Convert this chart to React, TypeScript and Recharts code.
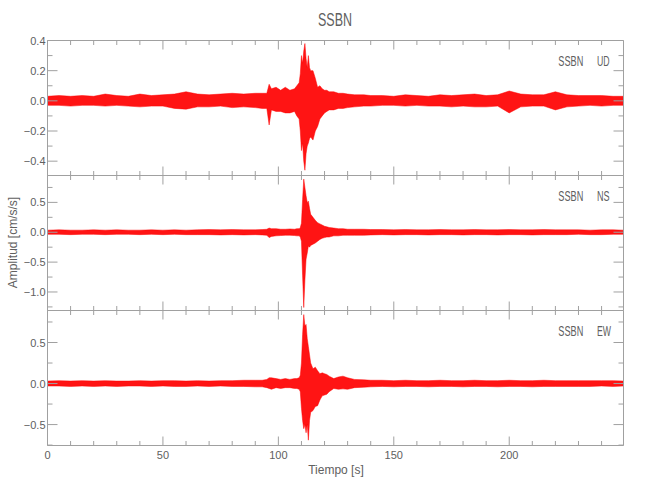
import { AreaChart, Area, XAxis, YAxis } from "recharts";

// time grid (s) shared by the three components; denser around the event
const T = [
  0, 5, 10, 15, 20, 25, 30, 35, 40, 45, 50, 55, 60, 65, 70, 75, 80, 85, 90,
  93, 95, 96, 97, 99, 101, 103, 105, 107, 108, 109, 109.5, 110, 110.5, 111, 111.5, 112, 112.5,
  113, 113.5, 114, 115, 116, 117, 118, 119, 120, 121, 122, 124, 126, 128, 130, 133,
  137, 140, 145, 150, 155, 160, 165, 170, 175, 180, 185, 190, 195, 200, 205, 210, 215, 220,
  225, 230, 235, 240, 245, 249.5,
];

// envelope of each trace (cm/s/s), upper and lower edge
const UD_HI = [
  0.03, 0.035, 0.03, 0.035, 0.03, 0.045, 0.035, 0.03, 0.045, 0.035, 0.04, 0.045, 0.06, 0.045, 0.04, 0.045, 0.05, 0.045, 0.05,
  0.05, 0.05, 0.11, 0.08, 0.09, 0.07, 0.09, 0.07, 0.08, 0.1, 0.12, 0.18, 0.3, 0.25, 0.33, 0.38, 0.28, 0.22,
  0.3, 0.22, 0.2, 0.2, 0.15, 0.09, 0.1, 0.08, 0.07, 0.07, 0.06, 0.06, 0.05, 0.05, 0.045, 0.04,
  0.04, 0.035, 0.035, 0.03, 0.04, 0.035, 0.03, 0.04, 0.035, 0.04, 0.045, 0.035, 0.04, 0.065, 0.045, 0.04, 0.04, 0.06,
  0.04, 0.035, 0.035, 0.035, 0.03, 0.03,
];
const UD_LO = [
  -0.03, -0.03, -0.035, -0.03, -0.03, -0.035, -0.03, -0.035, -0.04, -0.035, -0.035, -0.05, -0.055, -0.04, -0.04, -0.035, -0.045, -0.04, -0.045,
  -0.05, -0.05, -0.16, -0.06, -0.07, -0.07, -0.08, -0.08, -0.07, -0.1, -0.12, -0.2, -0.33, -0.28, -0.4, -0.46, -0.35, -0.3,
  -0.28, -0.25, -0.24, -0.26, -0.2, -0.17, -0.12, -0.1, -0.08, -0.07, -0.06, -0.06, -0.05, -0.05, -0.045, -0.04,
  -0.035, -0.035, -0.03, -0.03, -0.035, -0.03, -0.035, -0.035, -0.04, -0.035, -0.04, -0.04, -0.035, -0.08, -0.04, -0.035, -0.035, -0.06,
  -0.04, -0.035, -0.03, -0.035, -0.03, -0.03,
];

const NS_HI = [
  0.035, 0.04, 0.035, 0.035, 0.04, 0.035, 0.04, 0.035, 0.035, 0.04, 0.035, 0.04, 0.035, 0.04, 0.045, 0.04, 0.045, 0.04, 0.04,
  0.045, 0.05, 0.07, 0.06, 0.06, 0.05, 0.05, 0.055, 0.05, 0.06, 0.06, 0.08, 0.15, 0.55, 0.89, 0.75, 0.61, 0.5,
  0.52, 0.4, 0.3, 0.25, 0.2, 0.16, 0.14, 0.12, 0.1, 0.09, 0.08, 0.07, 0.06, 0.06, 0.05, 0.05,
  0.05, 0.045, 0.045, 0.04, 0.045, 0.04, 0.04, 0.045, 0.04, 0.04, 0.045, 0.04, 0.04, 0.045, 0.04, 0.04, 0.045, 0.04,
  0.04, 0.04, 0.035, 0.04, 0.04, 0.035,
];
const NS_LO = [
  -0.035, -0.035, -0.04, -0.035, -0.035, -0.04, -0.035, -0.035, -0.04, -0.035, -0.04, -0.035, -0.04, -0.04, -0.04, -0.045, -0.04, -0.045, -0.04,
  -0.045, -0.05, -0.09, -0.07, -0.06, -0.055, -0.05, -0.05, -0.055, -0.06, -0.06, -0.08, -0.15, -0.73, -1.26, -0.8, -0.45, -0.35,
  -0.23, -0.25, -0.22, -0.2, -0.18, -0.15, -0.12, -0.1, -0.09, -0.08, -0.08, -0.06, -0.06, -0.05, -0.05, -0.05,
  -0.05, -0.045, -0.04, -0.045, -0.04, -0.04, -0.045, -0.04, -0.04, -0.045, -0.04, -0.04, -0.045, -0.04, -0.04, -0.045, -0.04, -0.04,
  -0.04, -0.035, -0.04, -0.04, -0.035, -0.035,
];

const EW_HI = [
  0.03, 0.035, 0.03, 0.035, 0.03, 0.035, 0.03, 0.03, 0.035, 0.03, 0.035, 0.035, 0.03, 0.035, 0.03, 0.035, 0.035, 0.04, 0.04,
  0.04, 0.05, 0.07, 0.07, 0.06, 0.05, 0.06, 0.05, 0.06, 0.06, 0.07, 0.1, 0.25, 0.6, 0.84, 0.7, 0.72, 0.55,
  0.45, 0.35, 0.25, 0.18, 0.2, 0.155, 0.12, 0.13, 0.12, 0.11, 0.09, 0.06, 0.08, 0.09, 0.07, 0.05,
  0.045, 0.04, 0.04, 0.035, 0.04, 0.035, 0.035, 0.04, 0.035, 0.035, 0.04, 0.035, 0.035, 0.04, 0.035, 0.035, 0.04, 0.035,
  0.035, 0.035, 0.035, 0.035, 0.035, 0.03,
];
const EW_LO = [
  -0.03, -0.03, -0.035, -0.03, -0.035, -0.03, -0.035, -0.03, -0.03, -0.035, -0.03, -0.035, -0.035, -0.03, -0.035, -0.03, -0.035, -0.035, -0.04,
  -0.04, -0.05, -0.06, -0.07, -0.05, -0.06, -0.05, -0.05, -0.06, -0.06, -0.07, -0.1, -0.3, -0.45, -0.55, -0.5, -0.6, -0.5,
  -0.69, -0.45, -0.35, -0.33, -0.28, -0.27, -0.2, -0.15, -0.14, -0.13, -0.1, -0.06, -0.07, -0.065, -0.07, -0.05,
  -0.045, -0.04, -0.035, -0.04, -0.035, -0.035, -0.04, -0.035, -0.035, -0.04, -0.035, -0.035, -0.04, -0.035, -0.035, -0.04, -0.035, -0.035,
  -0.035, -0.035, -0.035, -0.03, -0.035, -0.03,
];

const X_TICKS = [0, 10, 20, 30, 40, 50, 60, 70, 80, 90, 100, 110, 120, 130, 140, 150, 160, 170, 180, 190, 200, 210, 220, 230, 240];
const UD_TICKS = [-0.4, -0.3, -0.2, -0.1, 0, 0.1, 0.2, 0.3, 0.4];
const NS_TICKS = [-1.25, -1, -0.75, -0.5, -0.25, 0, 0.25, 0.5, 0.75];
const EW_TICKS = [-0.75, -0.5, -0.25, 0, 0.25, 0.5, 0.75];

const STATION = "SSBN";
const AXIS = "#a0a0a0";
const TEXT = "#606060";
const FONT = "'Liberation Sans', Arial, sans-serif";

const isMajor = (v: number, step: number) => Math.abs(v / step - Math.round(v / step)) < 1e-6;
const fmtY = (v: number) => (Math.abs(v) < 1e-9 ? 0 : v).toFixed(1).replace("-", "\u2212");

function Panel({ comp, compWidth, hi, lo, domain, ticks, step, top, showX }: any) {
  const rows = T.map((t, i) => ({ t, band: [lo[i], hi[i]] }));
  const xh = showX ? 22 : 1;

  const leftTick = (p: any) => {
    const major = isMajor(p.payload.value, step);
    return (
      <g>
        <line x1={p.x} x2={p.x + (major ? 10 : 5)} y1={p.y} y2={p.y} stroke={AXIS} />
        {major && (
          <text x={p.x - 2} y={p.y + 4} textAnchor="end" fontSize={11} fontFamily={FONT} fill={TEXT}>
            {fmtY(p.payload.value)}
          </text>
        )}
      </g>
    );
  };
  const rightTick = (p: any) => {
    const major = isMajor(p.payload.value, step);
    return <line x1={p.x} x2={p.x - (major ? 10 : 5)} y1={p.y} y2={p.y} stroke={AXIS} />;
  };
  const bottomTick = (p: any) => {
    const major = isMajor(p.payload.value, 50);
    return (
      <g>
        <line x1={p.x} x2={p.x} y1={p.y} y2={p.y - (major ? 9 : 4.5)} stroke={AXIS} />
        {major && showX && (
          <text x={p.x} y={p.y + 13} textAnchor="middle" fontSize={11} fontFamily={FONT} fill={TEXT}>
            {p.payload.value}
          </text>
        )}
      </g>
    );
  };
  const topTick = (p: any) => {
    const major = isMajor(p.payload.value, 50);
    return <line x1={p.x} x2={p.x} y1={p.y} y2={p.y + (major ? 9 : 4.5)} stroke={AXIS} />;
  };

  const common = { tickSize: 0, tickMargin: 0, tickLine: false, axisLine: { stroke: AXIS }, interval: 0 as const, allowDataOverflow: true };

  return (
    <div style={{ position: "absolute", left: 0, top: top - 5 }}>
      <AreaChart width={650} height={140.5 + xh + 4.5} data={rows} margin={{ top: 4.5, right: 25.5, bottom: 4.5, left: 7.5 }}>
        <XAxis xAxisId="b" type="number" dataKey="t" domain={[0, 249.5]} ticks={X_TICKS} height={xh} tick={bottomTick} {...common} />
        <XAxis xAxisId="t" orientation="top" type="number" dataKey="t" domain={[0, 249.5]} ticks={X_TICKS} height={1} tick={topTick} {...common} />
        <YAxis yAxisId="l" type="number" domain={domain} ticks={ticks} width={40} tick={leftTick} {...common} />
        <YAxis yAxisId="r" orientation="right" type="number" domain={domain} ticks={ticks} width={1} tick={rightTick} {...common} />
        <Area
          xAxisId="b"
          yAxisId="l"
          dataKey="band"
          type="linear"
          stroke="#ff0000"
          strokeWidth={0.7}
          strokeOpacity={0.7}
          fill="#ff0000"
          fillOpacity={0.92}
          dot={false}
          activeDot={false}
          isAnimationActive={false}
        />
      </AreaChart>
      <svg width={650} height={40} style={{ position: "absolute", left: 0, top: 5 }}>
        <text x={558.3} y={26} fontSize={14} fontFamily={FONT} fill={TEXT} textLength={25} lengthAdjust="spacingAndGlyphs">
          {STATION}
        </text>
        <text x={597} y={26} fontSize={14} fontFamily={FONT} fill={TEXT} textLength={compWidth} lengthAdjust="spacingAndGlyphs">
          {comp}
        </text>
      </svg>
    </div>
  );
}

export default function App() {
  return (
    <div style={{ position: "absolute", left: 0, top: 0, width: 650, height: 500, background: "#fff" }}>
      <Panel comp="UD" compWidth={12.6} hi={UD_HI} lo={UD_LO} domain={[-0.495, 0.4]} ticks={UD_TICKS} step={0.2} top={40} showX={false} />
      <Panel comp="NS" compWidth={12.6} hi={NS_HI} lo={NS_LO} domain={[-1.31, 0.95]} ticks={NS_TICKS} step={0.5} top={175} showX={false} />
      <Panel comp="EW" compWidth={14} hi={EW_HI} lo={EW_LO} domain={[-0.755, 0.89]} ticks={EW_TICKS} step={0.5} top={310} showX={true} />
      <svg width={650} height={500} style={{ position: "absolute", left: 0, top: 0, pointerEvents: "none" }}>
        <text x={335} y={26} textAnchor="middle" fontSize={18} fontFamily={FONT} fill={TEXT} textLength={34} lengthAdjust="spacingAndGlyphs">
          {STATION}
        </text>
        <text x={336} y={474} textAnchor="middle" fontSize={12} fontFamily={FONT} fill={TEXT}>
          Tiempo [s]
        </text>
        <text transform="translate(16.5,242.5) rotate(-90)" textAnchor="middle" fontSize={12} fontFamily={FONT} fill={TEXT}>
          Amplitud [cm/s/s]
        </text>
      </svg>
    </div>
  );
}
